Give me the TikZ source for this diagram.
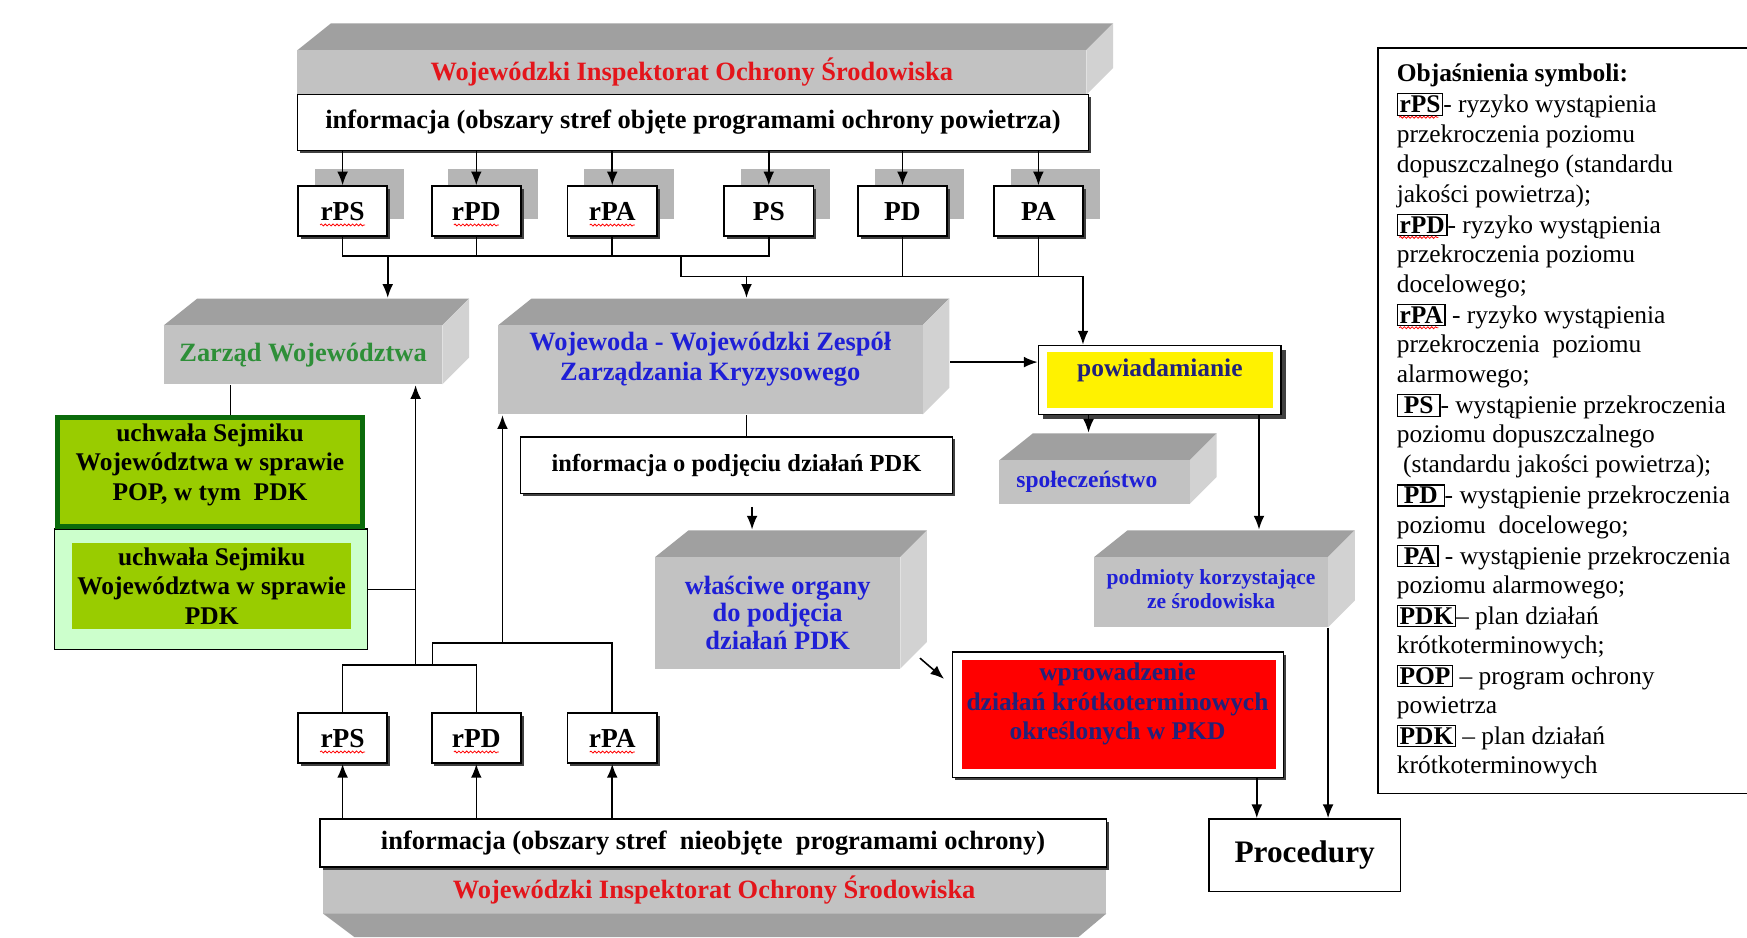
\documentclass[tikz,border=0pt]{standalone}
\usepackage{fontspec}
\setmainfont{Liberation Serif}
\usetikzlibrary{arrows.meta,shadows,decorations.pathmorphing}

% colours
\definecolor{topgray}{HTML}{A0A0A0}
\definecolor{frontgray}{HTML}{C2C2C2}
\definecolor{sidegray}{HTML}{D2D2D2}
\definecolor{backgray}{HTML}{B5B5B5}
\definecolor{titlered}{HTML}{E3151B}
\definecolor{wojblue}{HTML}{1F1FD6}
\definecolor{navyblue}{HTML}{22227A}
\definecolor{zargreen}{HTML}{2E8F38}
\definecolor{darkgreen}{HTML}{0B6B0B}
\definecolor{limegreen}{HTML}{99CC00}
\definecolor{mintgreen}{HTML}{CCFFCC}

% framed symbol in the legend
\newcommand{\sym}[1]{{\setlength{\fboxsep}{0.8pt}\setlength{\fboxrule}{0.6pt}\fbox{\textbf{#1}}}}

\tikzset{
  arr/.style={-{Latex[length=7pt,width=5.5pt]}},
  wavy/.style={red, line width=0.4pt, decorate, decoration={snake, amplitude=0.5pt, segment length=2pt}},
  boxshadow/.style={drop shadow={shadow xshift=1.4pt,shadow yshift=-1.4pt,fill=black!75,opacity=1}},
  bigshadow/.style={drop shadow={shadow xshift=2.5pt,shadow yshift=-2.5pt,fill=black!75,opacity=1}},
  sbox/.style={draw, fill=white, boxshadow, minimum width=1.6cm, minimum height=0.9cm, inner sep=0pt, font=\bfseries\fontsize{14}{16}\selectfont},
  infobox/.style={draw, fill=white, boxshadow, inner sep=0pt, font=\bfseries\fontsize{13.5}{15}\selectfont},
  titletext/.style={text=titlered, font=\bfseries\fontsize{13.5}{15}\selectfont},
  zartext/.style={text=zargreen, font=\bfseries\fontsize{13.5}{15}\selectfont},
  wojtext/.style={text=wojblue, align=center, yshift=5.5pt, font=\bfseries\fontsize{13.5}{15.4}\selectfont},
  spoltext/.style={text=wojblue, xshift=-4pt, font=\bfseries\fontsize{12}{14}\selectfont},
  podmtext/.style={text=wojblue, align=center, yshift=1.5pt, font=\bfseries\fontsize{11}{12.5}\selectfont},
  orgtext/.style={text=wojblue, align=center, font=\bfseries\fontsize{13.5}{14.2}\selectfont},
  greentext/.style={align=center, inner sep=0pt, font=\bfseries\fontsize{13}{15}\selectfont},
  legline/.style={anchor=west, inner sep=0pt, font=\fontsize{13}{15}\selectfont}
}

% grey block: name, front face x1 y1 x2 y2, text style, text
\newcommand{\slab}[7]{%
  \fill[topgray] (#2,#3) -- (#2+30,#3-24) -- (#4+24,#3-24) -- (#4,#3) -- cycle;
  \fill[sidegray] (#4,#3) -- (#4+24,#3-24) -- (#4+24,#5-24) -- (#4,#5) -- cycle;
  \fill[frontgray] (#2,#3) rectangle (#4,#5);
  \node[inner sep=0pt, minimum width={(#4+24-#2)*0.02cm}, minimum height={(#5-#3+24)*0.02cm}] (#1) at ({(#2+#4+24)/2},{(#3+#5-24)/2}) {};
  \node[#6] (#1t) at ({(#2+#4)/2},{(#3+#5)/2}) {#7};
}

\begin{document}
\begin{tikzpicture}[x=0.02cm, y=-0.02cm, line width=0.8pt]
\path[use as bounding box, fill=white] (0,0) rectangle (1568,841);

% inspectorate, top
\slab{wiostop}{267}{45}{975}{85}{titletext}{Wojewódzki Inspektorat Ochrony Środowiska}
\node[infobox, minimum width=14.2cm, minimum height=1cm] (infotop) at (622,110) {informacja (obszary stref objęte programami ochrony powietrza)};

% risk / exceedance boxes
\foreach \n/\t/\x in {trps/rPS/307.5, trpd/rPD/427.5, trpa/rPA/549.5, tps/PS/690, tpd/PD/810, tpa/PA/932}{
  \fill[backgray] (\x-25,152) rectangle (\x+55,197);
  \node[sbox] (\n) at (\x,189.5) {\t};
}

% authorities and receivers
\slab{zarzad}{147}{292}{397}{345}{zartext}{Zarząd Województwa}
\slab{woj}{447}{292}{828}{372}{wojtext}{Wojewoda - Wojewódzki Zespół\\Zarządzania Kryzysowego}
\slab{spol}{897}{413}{1068}{452}{spoltext}{społeczeństwo}
\slab{podm}{982}{500}{1192}{563}{podmtext}{podmioty korzystające\\ze środowiska}
\slab{organy}{588}{500}{808}{600}{orgtext}{właściwe organy\\do podjęcia\\działań PDK}

% resolutions
\node[draw, fill=mintgreen, minimum width=5.62cm, minimum height=2.16cm] (g2) at (189.5,529) {};
\node[fill=limegreen, minimum width=5cm, minimum height=1.56cm, greentext] (g2t) at (190,526) {uchwała Sejmiku\\Województwa w sprawie\\PDK};
\node[draw=darkgreen, line width=2.8pt, fill=limegreen, minimum width=5.48cm, minimum height=1.96cm] (g1) at (188.5,423.5) {};
\node[greentext] (g1t) at (188.5,417) {uchwała Sejmiku\\Województwa w sprawie\\POP, w tym\ \ PDK};

% notification
\node[draw, fill=white, bigshadow, minimum width=4.36cm, minimum height=1.24cm] (pow) at (1041,341) {};
\node[fill=yellow, minimum width=4.06cm, minimum height=1cm] (powy) at (1041.5,341) {};
\node[text=navyblue, font=\bfseries\fontsize{13}{15}\selectfont] (powt) at (1041,332) {powiadamianie};

% short-term actions
\node[draw, fill=white, boxshadow, minimum width=5.94cm, minimum height=2.26cm] (red) at (1003.5,641.5) {};
\node[fill=red, minimum width=5.64cm, minimum height=1.96cm] (redin) at (1004,641) {};
\node[align=center, text=navyblue, font=\bfseries\fontsize{13}{15}\selectfont] (redt) at (1003,632) {wprowadzenie\\działań krótkoterminowych\\określonych w PKD};

\node[draw, fill=white, minimum width=3.44cm, minimum height=1.3cm, font=\bfseries\fontsize{16}{18}\selectfont] (proc) at (1171,767.5) {Procedury};

\node[infobox, minimum width=7.76cm, minimum height=1.02cm, font=\bfseries\fontsize{12.5}{14}\selectfont] (pdkinfo) at (661,417.5) {informacja o podjęciu działań PDK};

% risk boxes, bottom
\foreach \n/\t/\x in {brps/rPS/307.5, brpd/rPD/427.5, brpa/rPA/549.5}
  \node[sbox] (\n) at (\x,662.5) {\t};

% spell checker waves
\foreach \n in {trps,trpd,trpa,brps,brpd,brpa}
  \draw[wavy] ([xshift=-11.5pt,yshift=-2.5pt]\n.base) -- ([xshift=11.5pt,yshift=-2.5pt]\n.base);

% inspectorate, bottom
\fill[frontgray] (290,778) rectangle (993,820);
\fill[topgray] (290,820) -- (993,820) -- (968,841) -- (318,841) -- cycle;
\node[titletext] (wiosbot) at (641,799) {Wojewódzki Inspektorat Ochrony Środowiska};
\node[infobox, minimum width=14.12cm, minimum height=0.86cm] (infobot) at (640,756.5) {informacja (obszary stref\ \ nieobjęte\ \ programami ochrony)};

% legend
\draw (1568,43) -| (1237,712) -- (1568,712);
\foreach \t [count=\i from 0] in {\textbf{Objaśnienia symboli:}, \sym{rPS}- ryzyko wystąpienia, przekroczenia poziomu, dopuszczalnego (standardu, jakości powietrza);, \sym{rPD}- ryzyko wystąpienia, przekroczenia poziomu, docelowego;, \sym{rPA} - ryzyko wystąpienia, przekroczenia\ \ poziomu, alarmowego;, \sym{\,PS\,}- wystąpienie przekroczenia, poziomu dopuszczalnego, \ (standardu jakości powietrza);, \sym{\,PD\,}- wystąpienie przekroczenia, poziomu\ \ docelowego;, \sym{\,PA} - wystąpienie przekroczenia, poziomu alarmowego;, \sym{PDK}-- plan działań, krótkoterminowych;, \sym{POP} -- program ochrony, powietrza, \sym{PDK} -- plan działań, krótkoterminowych}
  \node[legline] (leg\i) at (1253,68+27*\i) {\t};
\foreach \i in {1,5,8}
  \draw[wavy] ([xshift=1.6pt,yshift=-2.2pt]leg\i.base west) -- ++(20pt,0);

% connectors, top part
\coordinate (bus1) at (0,230);
\coordinate (bus2) at (0,248);
\coordinate (j1) at (348,230);
\coordinate (j2) at (611,230);
\coordinate (j3) at (972,248);
\coordinate (j4) at (670,248);
\foreach \n in {trps,trpd,trpa,tps,tpd,tpa}
  \draw[arr] (\n.north |- infotop.south) -- (\n.north);
\draw (trps.south) |- (tps.south |- bus1) -- (tps.south);
\draw (trpd.south) -- (trpd.south |- bus1);
\draw (trpa.south) -- (trpa.south |- bus1);
\draw (tpd.south) -- (tpd.south |- bus2);
\draw (tpa.south) -- (tpa.south |- bus2);
\draw[arr] (j1) -- (j1 |- zarzad.north);
\draw[arr] (j2) |- (j3) -- (j3 |- pow.north);
\draw[arr] (j4) -- (j4 |- woj.north);

% connectors, right part
\coordinate (j5) at (0,325);
\coordinate (j6) at (977,0);
\coordinate (j7) at (1130,0);
\coordinate (j8) at (1192,0);
\coordinate (j9) at (1128,0);
\coordinate (j10) at (675,455);
\draw[arr] (woj.east |- j5) -- (pow.west |- j5);
\draw[arr] (pow.south -| j6) -- (spol.north -| j6);
\draw[arr] (pow.south -| j7) -- (podm.north -| j7);
\draw[arr] (podm.south -| j8) -- (proc.north -| j8);
\draw[arr] (red.south -| j9) -- (proc.north -| j9);
\draw (woj.south -| j4) -- (pdkinfo.north -| j4);
\draw[arr] (j10) -- (j10 |- organy.north);
\draw[arr] ([shift={(-7,-10)}]organy.south east) -- ([shift={(-7,25)}]red.north west);

% connectors, left and bottom part
\coordinate (j11) at (207,0);
\coordinate (j12) at (373,597);
\coordinate (j13) at (388,597);
\coordinate (j14) at (451,577);
\coordinate (bus3) at (0,597);
\coordinate (bus4) at (0,577);
\draw (zarzad.south -| j11) -- (g1.north -| j11);
\draw (g2.east) -- (g2.east -| j12);
\draw[arr] (j12) -- (j12 |- zarzad.south);
\draw (brps.north) |- (brpd.north |- bus3) -- (brpd.north);
\draw (j13) |- (brpa.north |- bus4) -- (brpa.north);
\draw[arr] (j14) -- (j14 |- woj.south);
\foreach \n in {brps,brpd,brpa}
  \draw[arr] (\n.south |- infobot.north) -- (\n.south);
\end{tikzpicture}
\end{document}
